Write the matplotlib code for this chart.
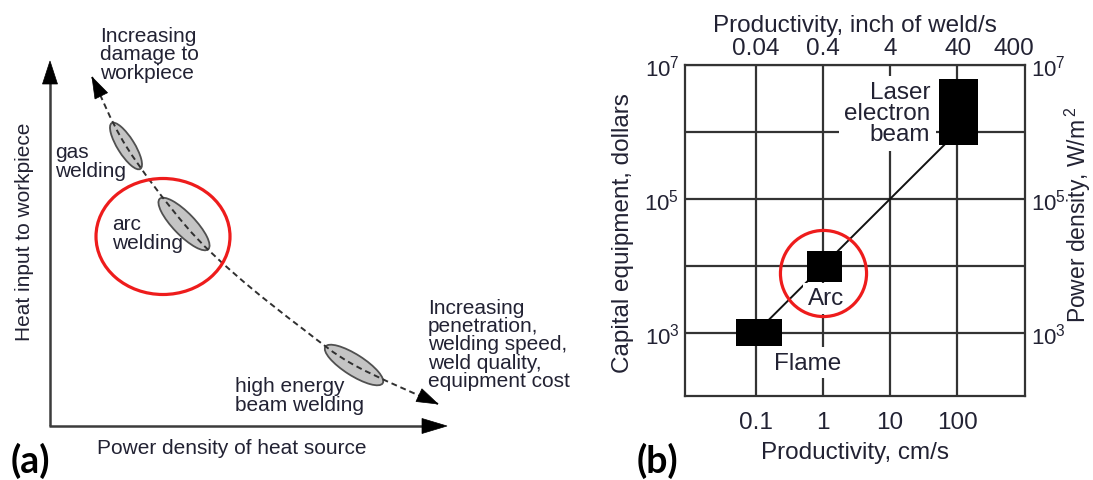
import numpy as np
import matplotlib
matplotlib.use("Agg")
import matplotlib.pyplot as plt
from matplotlib.patches import Ellipse, Polygon, PathPatch
from matplotlib.path import Path
from matplotlib.ticker import NullLocator
from matplotlib.transforms import ScaledTranslation

plt.rcParams['font.family'] = ['Liberation Sans', 'DejaVu Sans']
plt.rcParams['mathtext.fontset'] = 'custom'
plt.rcParams['mathtext.rm'] = 'Liberation Sans'
plt.rcParams['mathtext.default'] = 'regular'

# ---------------- panel (b) data ----------------
processes = ["Flame", "Arc", "Laser\nelectron\nbeam"]
productivity_cm_s = [0.1, 1.0, 100.0]          # nominal productivity
capital_cost_usd = [1e3, 1e4, 1e6]             # nominal equipment cost
block_prod_lo = [0.052, 0.58, 53.0]
block_prod_hi = [0.245, 1.9, 205.0]
block_cost_lo = [640.0, 5800.0, 6.4e5]
block_cost_hi = [1620.0, 16500.0, 6.2e6]

bottom_ticks = [0.1, 1, 10, 100]
bottom_labels = ["0.1", "1", "10", "100"]
top_ticks_in_s = [0.04, 0.4, 4, 40, 400]
top_labels = ["0.04", "0.4", "4", "40", "400"]
cost_ticks = [1e3, 1e4, 1e5, 1e6, 1e7]
cost_labels = [r"$10^3$", "", r"$10^5$", "", r"$10^7$"]
CM_PER_INCH = 2.54

# ---------------- panel (a) labels ----------------
scheme_processes = ["gas\nwelding", "arc\nwelding", "high energy\nbeam welding"]

W, H = 1093, 481
fig = plt.figure(figsize=(W / 100, H / 100), dpi=100)

TXT = '#222233'
LINE = '#333333'

# ======================= panel (a): schematic =======================
ax_a = fig.add_axes([0, 0, 580 / W, 1])
ax_a.set_xlim(0, 580)
ax_a.set_ylim(H, 0)
ax_a.axis('off')


def arrow_head(ax, tip, direction, length, half_width):
    d = np.asarray(direction, float)
    d = d / np.hypot(*d)
    n = np.array([-d[1], d[0]])
    tip = np.asarray(tip, float)
    base = tip - d * length
    ax.add_patch(Polygon([tip, base + n * half_width, base - n * half_width],
                         closed=True, fc='black', ec='black', lw=0.5, zorder=6))


def smooth_path(points):
    p = np.asarray(points, float)
    ext = np.vstack([p[0], p, p[-1]])
    verts, codes = [p[0]], [Path.MOVETO]
    for i in range(1, len(ext) - 2):
        p0, p1, p2, p3 = ext[i - 1], ext[i], ext[i + 1], ext[i + 2]
        verts += [p1 + (p2 - p0) / 6, p2 - (p3 - p1) / 6, p2]
        codes += [Path.CURVE4] * 3
    return Path(verts, codes), verts


# axes arrows
ax_a.plot([50, 50], [427, 80], color='#3c3c3c', lw=1.8, solid_capstyle='butt')
ax_a.plot([49, 425], [427, 427], color='#3c3c3c', lw=1.8, solid_capstyle='butt')
arrow_head(ax_a, (50, 62), (0, -1), 23, 7.5)
arrow_head(ax_a, (447, 427), (1, 0), 25, 7.5)

# trend curve
trend = [(92, 78), (126, 147), (185, 226), (237, 277), (303, 330), (354, 366), (438, 405)]
path, verts = smooth_path(trend)
ax_a.add_patch(PathPatch(path, fill=False, ec='#303030', lw=1.4,
                         ls=(0, (3, 2)), zorder=5))
arrow_head(ax_a, trend[0], np.subtract(verts[0], verts[1]), 21, 7)
arrow_head(ax_a, trend[-1], np.subtract(verts[-1], verts[-2]), 21, 7)

# process regions
for (cx, cy), w, h, ang in [((126, 147), 54, 17, 58),
                            ((184, 225), 70, 22, 46),
                            ((354, 366), 68, 21, 32.5)]:
    ax_a.add_patch(Ellipse((cx, cy), w, h, angle=ang, fc='#c4c4c4',
                           ec='#505050', lw=1.3, zorder=4))

# highlight
ax_a.add_patch(Ellipse((163, 237.5), 134, 116, fc='none', ec='#ee1c1c', lw=2.3, zorder=7))

fs_a = 15
ax_a.text(100, 55, "Increasing\ndamage to\nworkpiece", fontsize=fs_a, color=TXT,
          ha='left', va='center', linespacing=0.95)
ax_a.text(55, 162, scheme_processes[0], fontsize=fs_a, color=TXT,
          ha='left', va='center', linespacing=0.95)
ax_a.text(112, 234, scheme_processes[1], fontsize=fs_a, color=TXT,
          ha='left', va='center', linespacing=0.95)
ax_a.text(235, 396, scheme_processes[2], fontsize=fs_a, color=TXT,
          ha='left', va='center', linespacing=0.95)
ax_a.text(428, 345, "Increasing\npenetration,\nwelding speed,\nweld quality,\nequipment cost",
          fontsize=fs_a, color=TXT, ha='left', va='center', linespacing=0.95)
ax_a.text(232, 449, "Power density of heat source", fontsize=fs_a, color=TXT,
          ha='center', va='center')
ax_a.text(25, 232, "Heat input to workpiece", fontsize=fs_a, color=TXT,
          ha='center', va='center', rotation=90)
ax_a.text(30, 461, "(a)", fontsize=27, fontweight='bold', family=['Lato', 'DejaVu Sans'],
          color='black', ha='center', va='center')

# ======================= panel (b): log-log chart =======================
L, R, T, B = 685, 1025, 66, 397
ax = fig.add_axes([L / W, 1 - B / H, (R - L) / W, (B - T) / H])
fs_b = 17.5
fs_exp = 16
ax.set_xscale('log')
ax.set_yscale('log')
xlim = (10 ** -2.05, 1020)
ylim = (10 ** 2.06, 1e7)
ax.set_xlim(*xlim)
ax.set_ylim(*ylim)
ax.xaxis.set_minor_locator(NullLocator())
ax.yaxis.set_minor_locator(NullLocator())
ax.set_xticks(bottom_ticks, bottom_labels)
ax.set_yticks(cost_ticks, cost_labels)
ax.tick_params(length=0, labelcolor=TXT)
ax.tick_params(axis='x', pad=11, labelsize=fs_b)
ax.tick_params(axis='y', pad=4, labelsize=fs_exp)
ax.grid(True, color=LINE, lw=1.6, zorder=1)
ax.set_axisbelow(True)
for s in ax.spines.values():
    s.set_color(LINE)
    s.set_linewidth(1.6)
    s.set_zorder(2)

# trend line and process blocks
ax.plot(productivity_cm_s, capital_cost_usd, color='#111111', lw=1.4, zorder=3)
for xl, xh, yl, yh in zip(block_prod_lo, block_prod_hi, block_cost_lo, block_cost_hi):
    ax.fill_between([xl, xh], yl, yh, color='black', lw=0, zorder=4)

box = dict(fc='white', ec='none', pad=3)
ax.annotate(processes[0], xy=(block_prod_hi[0], block_cost_lo[0]), xytext=(19, -4),
            textcoords='offset points', ha='center', va='top', fontsize=fs_b,
            color=TXT, bbox=box, zorder=5)
ax.annotate(processes[1], xy=(np.sqrt(block_prod_lo[1] * block_prod_hi[1]), block_cost_lo[1]),
            xytext=(1, -4), textcoords='offset points', ha='center', va='top',
            fontsize=fs_b, color=TXT, bbox=box, zorder=5)
ax.annotate(processes[2], xy=(block_prod_lo[2], np.sqrt(block_cost_lo[2] * block_cost_hi[2])),
            xytext=(-6, -1), textcoords='offset points', ha='right', va='center',
            fontsize=fs_b, color=TXT, linespacing=0.95,
            bbox=dict(fc='white', ec='none', pad=4), zorder=5)

# highlight around the arc process
ax.plot([productivity_cm_s[1]], [10 ** 3.89], marker='o', ms=62, mfc='none',
        mec='#ee1c1c', mew=2.3, zorder=6, clip_on=False)

ax.set_xlabel("Productivity, cm/s", fontsize=fs_b, color=TXT)
ax.xaxis.set_label_coords(0.5, (B - 442) / (B - T))
ax.set_ylabel("Capital equipment, dollars", fontsize=fs_b, color=TXT)
ax.yaxis.set_label_coords((634 - L) / (R - L), (B - 233.5) / (B - T))

# top axis in inch of weld per second
ax_top = ax.twiny()
ax_top.set_xscale('log')
ax_top.set_xlim(*xlim)
ax_top.xaxis.set_minor_locator(NullLocator())
ax_top.set_xticks([v * CM_PER_INCH for v in top_ticks_in_s], top_labels)
ax_top.tick_params(length=0, labelsize=fs_b, labelcolor=TXT, pad=4)
ax_top.set_xlabel("Productivity, inch of weld/s", fontsize=fs_b, color=TXT)
ax_top.xaxis.set_label_coords(0.5, (B - 32) / (B - T))
for s in ax_top.spines.values():
    s.set_visible(False)
last = ax_top.get_xticklabels()[-1]
last.set_transform(last.get_transform() + ScaledTranslation(-0.11, 0, fig.dpi_scale_trans))

# right axis: power density
ax_right = ax.twinx()
ax_right.set_yscale('log')
ax_right.set_ylim(*ylim)
ax_right.yaxis.set_minor_locator(NullLocator())
ax_right.set_yticks(cost_ticks, cost_labels)
ax_right.tick_params(length=0, labelsize=fs_exp, labelcolor=TXT, pad=4)
ax_right.set_ylabel(r"Power density, W/m$^{\,2}$", fontsize=16.5, color=TXT)
ax_right.yaxis.set_label_coords((1063 - L) / (R - L), (B - 215) / (B - T))
for s in ax_right.spines.values():
    s.set_visible(False)

fig.text(657 / W, 1 - 461 / H, "(b)", fontsize=27, fontweight='bold',
         family=['Lato', 'DejaVu Sans'], color='black', ha='center', va='center')

fig.savefig("out.png", dpi=100, facecolor='white')
